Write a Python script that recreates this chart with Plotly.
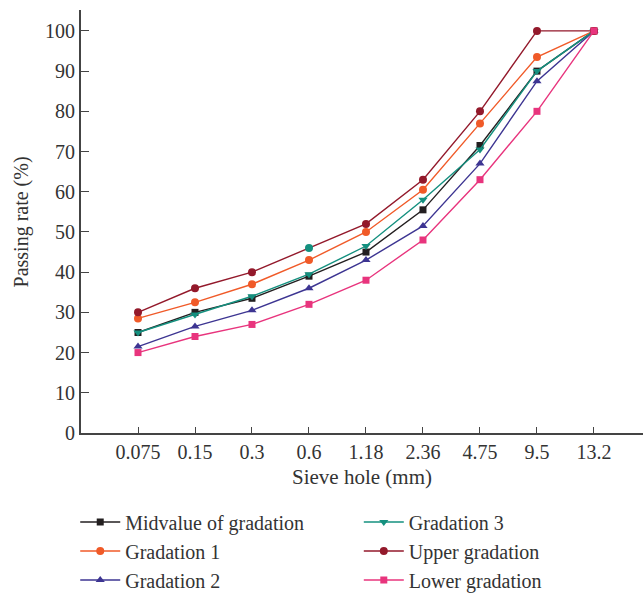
import plotly.graph_objects as go

sieve = ["0.075", "0.15", "0.3", "0.6", "1.18", "2.36", "4.75", "9.5", "13.2"]
mid = [25, 30, 33.5, 39, 45, 55.5, 71.5, 90, 100]
grad1 = [28.5, 32.5, 37, 43, 50, 60.5, 77, 93.5, 100]
grad2 = [21.5, 26.5, 30.5, 36, 43, 51.5, 67, 87.5, 100]
grad3 = [25, 29.5, 34, 39.5, 46.5, 58, 70.5, 90, 100]
upper = [30, 36, 40, 46, 52, 63, 80, 100, 100]
lower = [20, 24, 27, 32, 38, 48, 63, 80, 100]

names = ["Midvalue of gradation", "Gradation 1", "Gradation 2",
         "Gradation 3", "Upper gradation", "Lower gradation"]

C_MID = "#231f20"
C_G1 = "#f05a28"
C_G2 = "#3d3592"
C_G3 = "#14907f"
C_UP = "#93192b"
C_LO = "#e8347d"

upper_marker_colors = [C_UP] * len(sieve)
upper_marker_colors[3] = C_G3  # teal marker visible at 0.6 in the reference

series = [
    (mid, names[0], C_MID, C_MID, "square", 7, "legend"),
    (grad1, names[1], C_G1, C_G1, "circle", 8, "legend"),
    (grad2, names[2], C_G2, C_G2, "triangle-up", 8, "legend"),
    (grad3, names[3], C_G3, C_G3, "triangle-down", 8, "legend2"),
    (upper, names[4], C_UP, upper_marker_colors, "circle", 8, "legend2"),
    (lower, names[5], C_LO, C_LO, "square", 7, "legend2"),
]

fig = go.Figure()
for ys, nm, lc, mc, sym, sz, lg in series:
    fig.add_trace(go.Scatter(
        x=sieve, y=ys, name=nm, mode="lines+markers",
        line=dict(color=lc, width=1.4),
        marker=dict(color=mc, symbol=sym, size=sz, line=dict(width=0)),
        legend=lg,
    ))

font_family = "Liberation Serif"
TXT = "#333333"
leg_common = dict(yref="container", y=0.154, yanchor="top", xref="container",
                  xanchor="left", font=dict(size=20, family=font_family, color=TXT),
                  tracegroupgap=0, itemwidth=40, bgcolor="rgba(0,0,0,0)")
fig.update_layout(
    width=643, height=594,
    margin=dict(l=81, r=0, t=10, b=161, autoexpand=False),
    paper_bgcolor="white", plot_bgcolor="white",
    font=dict(family=font_family, color=TXT, size=18),
    showlegend=True,
    legend=dict(x=0.117, **leg_common),
    legend2=dict(x=0.558, **leg_common),
    annotations=[dict(
        text="Passing rate (%)", textangle=-90,
        xref="paper", yref="paper", x=-0.105, y=0.5,
        xanchor="center", yanchor="middle", showarrow=False,
        font=dict(size=20, family=font_family, color=TXT),
    )],
)
fig.update_xaxes(
    type="category", categoryorder="array", categoryarray=sieve,
    range=[-1, 8.86], showgrid=False, zeroline=False,
    showline=True, linecolor="#444444", linewidth=2,
    ticks="inside", ticklen=6, tickcolor="#444444", tickwidth=1,
    tickfont=dict(size=20, family=font_family, color=TXT),
    title=dict(text="Sieve hole (mm)", font=dict(size=21, family=font_family, color=TXT), standoff=7),
)
fig.update_yaxes(
    range=[0, 105.2], tickvals=list(range(0, 101, 10)),
    showgrid=False, zeroline=False,
    showline=True, linecolor="#444444", linewidth=2,
    ticks="inside", ticklen=8, tickcolor="#444444", tickwidth=1,
    tickfont=dict(size=20, family=font_family, color=TXT),
)

fig.write_html("out.html", config={"displayModeBar": False},
               post_script="document.body.style.margin='0';document.body.style.padding='0';window.dispatchEvent(new Event('resize'));")
